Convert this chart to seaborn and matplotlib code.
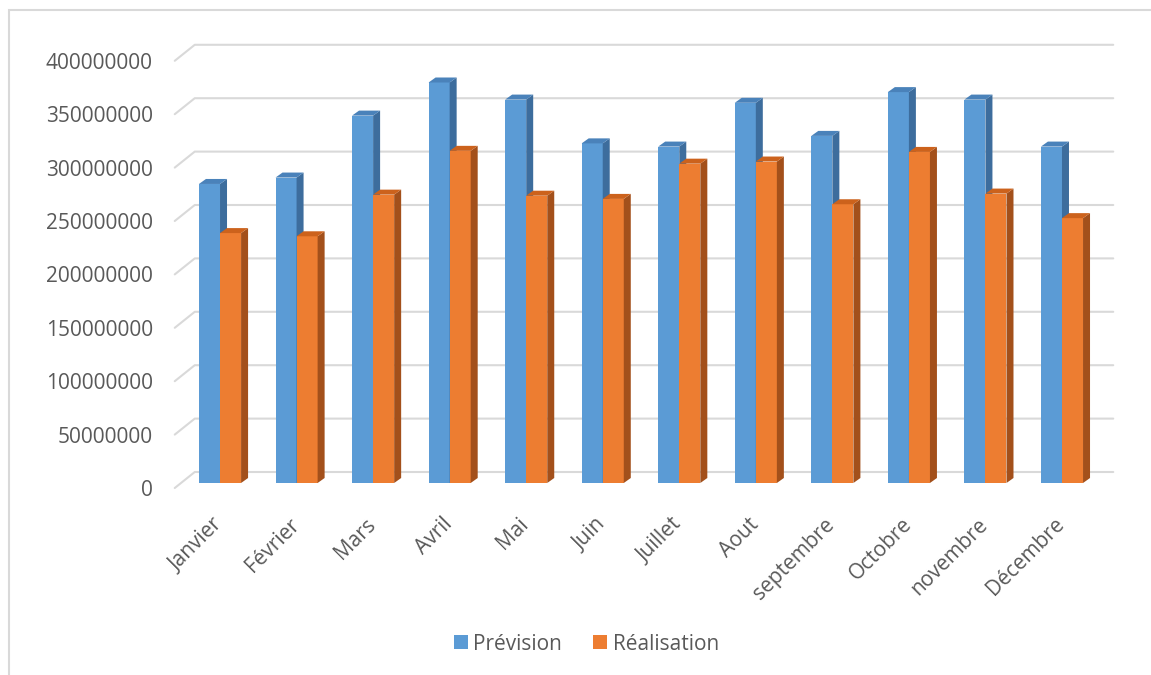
import matplotlib
matplotlib.use("Agg")
import matplotlib.pyplot as plt
import pandas as pd
import seaborn as sns
from matplotlib.patches import Polygon, Rectangle, Patch
from matplotlib.lines import Line2D
from matplotlib.transforms import IdentityTransform, ScaledTranslation

# Monthly amounts: forecast vs. actual
mois = ["Janvier", "Février", "Mars", "Avril", "Mai", "Juin", "Juillet",
        "Aout", "septembre", "Octobre", "novembre", "Décembre"]
prevision = [280e6, 286e6, 344e6, 375e6, 359e6, 318e6, 315e6,
             356e6, 325e6, 366e6, 359e6, 315e6]
realisation = [234e6, 231e6, 270e6, 311e6, 269e6, 266e6, 299e6,
               301e6, 261e6, 310e6, 271e6, 248e6]
series = ["Prévision", "Réalisation"]
yticks = list(range(0, 400000001, 50000000))

sns.set_theme(style="white")
plt.rcParams["font.family"] = ["Open Sans", "DejaVu Sans"]

W, H, DPI = 1151, 675, 100
TEXT = "#595959"
GRID = "#D9D9D9"
front = ["#5B9BD5", "#ED7D31"]
side = ["#3D6D9D", "#A3501B"]
top = ["#4A82BA", "#CC621C"]
DX, DY = 7, 5  # depth of the extruded bars, in pixels

fig = plt.figure(figsize=(W / DPI, H / DPI), dpi=DPI)
fig.patch.set_facecolor("white")
ax = fig.add_axes([181.75 / W, 1 - 483 / H, 918.5 / W, 427.2 / H])
ax.patch.set_visible(False)

df = pd.DataFrame({
    "Mois": mois * 2,
    "Montant": prevision + realisation,
    "Série": [series[0]] * len(mois) + [series[1]] * len(mois),
})
sns.barplot(data=df, x="Mois", y="Montant", hue="Série", order=mois,
            hue_order=series, palette=front, saturation=1, width=0.55,
            linewidth=0, legend=False, ax=ax)
ax.set_xlim(-0.5, len(mois) - 0.5)
ax.set_ylim(0, 400e6)
ax.set_xlabel("")
ax.set_ylabel("")
for s in ax.spines.values():
    s.set_visible(False)

# Axis labels
ax.set_yticks(yticks)
ax.set_yticklabels([str(v) for v in yticks])
ax.set_xticks(range(len(mois)))
ax.set_xticklabels(mois, rotation=45, ha="right", rotation_mode="anchor")
ax.tick_params(axis="y", length=0, pad=20.7, labelsize=15, labelcolor=TEXT)
ax.tick_params(axis="x", length=0, pad=18, labelsize=15, labelcolor=TEXT)
yshift = ScaledTranslation(0, -5 / DPI, fig.dpi_scale_trans)
for lab in ax.get_yticklabels():
    lab.set_transform(lab.get_transform() + yshift)
xshift = ScaledTranslation(-8 / DPI, -6 / DPI, fig.dpi_scale_trans)
for lab in ax.get_xticklabels():
    lab.set_transform(lab.get_transform() + xshift)

# Side and top faces give each column some depth
n = len(mois)
for i, p in enumerate(ax.patches):
    k = 0 if i < n else 1
    p.set_zorder(2 + k)
    x0, y0 = p.get_x(), p.get_y()
    x1, y1 = x0 + p.get_width(), y0 + p.get_height()
    (px0, py0), (px1, py1) = ax.transData.transform([(x0, y0), (x1, y1)])
    side_pts = [(px1, py0), (px1 + DX, py0 + DY), (px1 + DX, py1 + DY), (px1, py1)]
    top_pts = [(px0, py1), (px0 + DX, py1 + DY), (px1 + DX, py1 + DY), (px1, py1)]
    for pts, col in ((side_pts, side[k]), (top_pts, top[k])):
        poly = Polygon(pts, closed=True, facecolor=col, edgecolor="none",
                       transform=IdentityTransform(), zorder=2.5 + k)
        poly.set_clip_on(False)
        ax.add_artist(poly)

# Gridlines on the back wall, with the floor edge running to the front
xl = ax.transAxes.transform((0, 0))[0]
xr = ax.transAxes.transform((1, 0))[0]
for v in yticks:
    yd = ax.transData.transform((0, v))[1]
    fig.add_artist(Line2D([xl - 7, xl + 13, xr + 13], [yd - 5, yd + 11, yd + 11],
                          transform=IdentityTransform(), color=GRID, lw=1.5,
                          zorder=-1))

# Legend
handles = [Patch(facecolor=c, edgecolor="none") for c in front]
fig.legend(handles, series, loc="center", bbox_to_anchor=(586.5 / W, 1 - 644 / H),
           ncol=2, frameon=False, fontsize=15, labelcolor=TEXT,
           handlelength=0.67, handleheight=0.67, handletextpad=0.25,
           columnspacing=1.5)

# Chart frame
fig.add_artist(Rectangle((9, -20), W + 20, H - 10 + 20, fill=False,
                         edgecolor=GRID, lw=1.5, transform=IdentityTransform(),
                         zorder=-2))

fig.savefig("out.png", dpi=DPI)
